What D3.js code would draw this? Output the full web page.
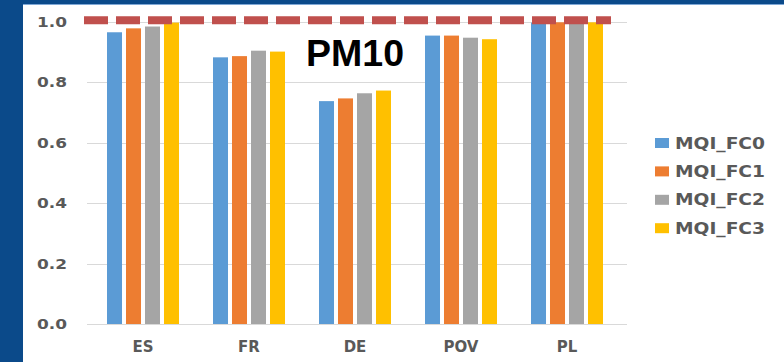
<!DOCTYPE html>
<html><head><meta charset="utf-8">
<script src="https://cdn.jsdelivr.net/npm/d3@7/dist/d3.min.js"></script>
<style>html,body{margin:0;padding:0;background:#0b4a8a;}svg{display:block;}</style>
</head><body>
<svg id="c" width="784" height="362"></svg>
<script>
const categories = ["ES", "FR", "DE", "POV", "PL"];
const seriesNames = ["MQI_FC0", "MQI_FC1", "MQI_FC2", "MQI_FC3"];
const fc0 = [0.966, 0.883, 0.738, 0.955, 0.998];
const fc1 = [0.979, 0.887, 0.747, 0.955, 0.999];
const fc2 = [0.985, 0.905, 0.764, 0.948, 0.997];
const fc3 = [0.998, 0.902, 0.773, 0.943, 0.999];
const yTicks = [0.0, 0.2, 0.4, 0.6, 0.8, 1.0];
const threshold = 1.006;
const title = "PM10";
const colors = ["#5b9bd5", "#ed7d31", "#a5a5a5", "#ffc000"];

const series = [fc0, fc1, fc2, fc3];
const svg = d3.select("#c");
svg.append("rect").attr("x",0).attr("y",0).attr("width",784).attr("height",362).attr("fill","#0b4a8a");
svg.append("rect").attr("x",23).attr("y",4).attr("width",761).attr("height",1.5).attr("fill","#7fa8d6");
svg.append("rect").attr("x",23).attr("y",5).attr("width",761).attr("height",357).attr("fill","#ffffff");

const y = d3.scaleLinear().domain([0, 1.0]).range([324, 22]);
const x0 = d3.scaleBand().domain(categories).range([90, 620]).paddingInner(0).paddingOuter(0);
const x1 = d3.scaleBand().domain(seriesNames).range([-36, 36]).paddingInner(0.21);

// gridlines
svg.append("g").selectAll("line").data(yTicks).join("line")
  .attr("x1", 87).attr("x2", 627)
  .attr("y1", d => Math.round(y(d)) + 0.5).attr("y2", d => Math.round(y(d)) + 0.5)
  .attr("stroke", "#d9d9d9").attr("stroke-width", 1);

// y tick labels
svg.append("g").selectAll("text").data(yTicks).join("text")
  .attr("x", 37).attr("y", d => y(d) + 5)
  .attr("textLength", 30).attr("lengthAdjust", "spacingAndGlyphs")
  .attr("font-family", "DejaVu Sans").attr("font-weight", "bold").attr("font-size", 14)
  .attr("fill", "#595959").text(d => d.toFixed(1));

// bars
const groups = svg.append("g").selectAll("g").data(categories).join("g")
  .attr("transform", c => `translate(${x0(c) + x0.bandwidth()/2},0)`);
groups.selectAll("rect").data((c, i) => series.map((s, j) => ({name: seriesNames[j], v: s[i], j})))
  .join("rect")
  .attr("x", d => x1(d.name)).attr("width", x1.bandwidth())
  .attr("y", d => y(d.v)).attr("height", d => y(0) - y(d.v))
  .attr("fill", d => colors[d.j]);

// category labels
svg.append("g").selectAll("text").data(categories).join("text")
  .attr("x", c => x0(c) + x0.bandwidth()/2).attr("y", 352)
  .attr("text-anchor", "middle")
  .attr("font-family", "DejaVu Sans").attr("font-weight", "bold").attr("font-size", 15)
  .attr("fill", "#595959").text(c => c);

// threshold dashed line
svg.append("line").attr("x1", 84).attr("x2", 611)
  .attr("y1", y(threshold)).attr("y2", y(threshold))
  .attr("stroke", "#c0504d").attr("stroke-width", 8).attr("stroke-dasharray", "24,8");

// title
svg.append("text").attr("x", 306).attr("y", 66)
  .attr("font-family", "Liberation Sans, Arial").attr("font-weight", "bold").attr("font-size", 37.5)
  .attr("textLength", 98).attr("lengthAdjust", "spacingAndGlyphs")
  .attr("fill", "#000").text(title);

// legend
const leg = svg.append("g").selectAll("g").data(seriesNames).join("g")
  .attr("transform", (d, i) => `translate(655, ${143 + i * 28.4})`);
leg.append("rect").attr("x", 0).attr("y", -5).attr("width", 14).attr("height", 10)
  .attr("fill", (d, i) => colors[i]);
leg.append("text").attr("x", 20).attr("y", 5.5)
  .attr("textLength", 90).attr("lengthAdjust", "spacingAndGlyphs")
  .attr("font-family", "DejaVu Sans").attr("font-weight", "bold").attr("font-size", 15)
  .attr("fill", "#595959").text(d => d);
</script>
</body></html>
